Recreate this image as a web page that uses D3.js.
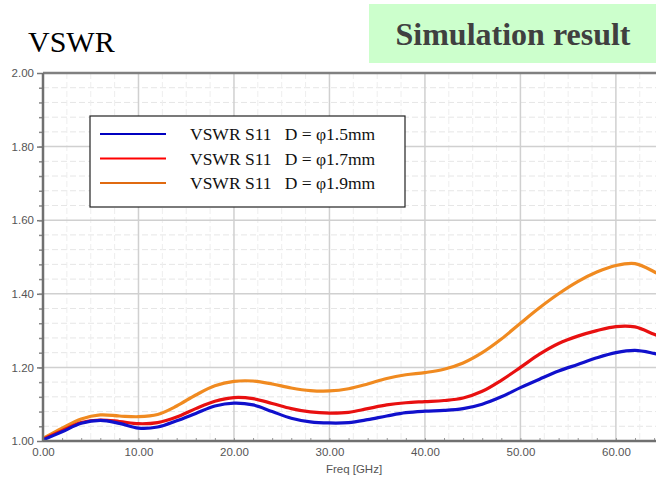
<!DOCTYPE html>
<html>
<head>
<meta charset="utf-8">
<script src="https://cdn.jsdelivr.net/npm/d3@7"></script>
<style>
  body { margin: 0; background: #fff; }
  svg { display: block; }
</style>
</head>
<body>
<div id="chart"></div>
<script>
// frequencias (GHz)
var freq = [0, 2, 4, 6, 8, 10, 12, 14, 16, 18, 20, 22, 24, 26, 28, 30, 32, 34, 36, 38,
            40, 42, 44, 46, 48, 50, 52, 54, 56, 58, 60, 62, 64, 65];

// VSWR por diametro
var vswr15 = [1.003, 1.025, 1.048, 1.056, 1.048, 1.035, 1.038, 1.055, 1.075, 1.095, 1.103, 1.098, 1.080, 1.062, 1.052, 1.049, 1.050, 1.058, 1.068, 1.077,
              1.081, 1.083, 1.088, 1.100, 1.120, 1.145, 1.168, 1.190, 1.208, 1.226, 1.240, 1.246, 1.238, 1.232];
var vswr17 = [1.005, 1.028, 1.050, 1.057, 1.053, 1.047, 1.050, 1.065, 1.088, 1.108, 1.118, 1.115, 1.102, 1.088, 1.079, 1.076, 1.078, 1.088, 1.098, 1.104,
              1.107, 1.110, 1.117, 1.135, 1.165, 1.200, 1.236, 1.265, 1.285, 1.300, 1.311, 1.310, 1.290, 1.280];
var vswr19 = [1.007, 1.035, 1.060, 1.071, 1.068, 1.066, 1.072, 1.095, 1.125, 1.150, 1.162, 1.163, 1.155, 1.144, 1.137, 1.136, 1.142, 1.155, 1.170, 1.180,
              1.186, 1.195, 1.212, 1.240, 1.277, 1.320, 1.362, 1.400, 1.433, 1.459, 1.477, 1.482, 1.460, 1.445];

var legendas = ["VSWR S11   D = \u03c61.5mm", "VSWR S11   D = \u03c61.7mm", "VSWR S11   D = \u03c61.9mm"];
var cores = ["#1010cc", "#e81010", "#f08a20"];
var coresLegenda = ["#0000c0", "#ff0000", "#e06a10"];

var xTicks = [0, 10, 20, 30, 40, 50, 60];
var yTicks = [1.0, 1.2, 1.4, 1.6, 1.8, 2.0];

var largura = 656, altura = 480;
var esq = 43, topo = 73, base = 441;

var svg = d3.select("#chart").append("svg")
    .attr("width", largura)
    .attr("height", altura);

// titulo
svg.append("text")
    .attr("x", 28).attr("y", 52)
    .style("font-family", "Liberation Serif, Times New Roman, serif")
    .style("font-size", "30px")
    .attr("fill", "#000")
    .text("VSWR");

// caixa verde
svg.append("rect")
    .attr("x", 369).attr("y", 4)
    .attr("width", 287).attr("height", 59)
    .attr("fill", "#ccffcc");
svg.append("text")
    .attr("x", 513).attr("y", 45)
    .attr("text-anchor", "middle")
    .style("font-family", "Liberation Serif, Times New Roman, serif")
    .style("font-size", "32px")
    .style("font-weight", "bold")
    .attr("fill", "#404040")
    .text("Simulation result");

var x = d3.scaleLinear().domain([0, 64.2]).range([esq, largura]);
var y = d3.scaleLinear().domain([1, 2]).range([base, topo]);

svg.append("defs").append("clipPath").attr("id", "clip")
    .append("rect")
    .attr("x", esq).attr("y", topo)
    .attr("width", largura - esq).attr("height", base - topo);

// grade secundaria
var grid = svg.append("g");
grid.selectAll(".gy2")
    .data(d3.range(1.04, 2.0, 0.04).filter(function(d) { return Math.abs(d * 5 - Math.round(d * 5)) > 0.01; }))
    .enter().append("line")
    .attr("x1", esq).attr("x2", largura)
    .attr("y1", function(d) { return y(d); })
    .attr("y2", function(d) { return y(d); })
    .attr("stroke", "#e6e6e6")
    .attr("stroke-dasharray", "6,3");
grid.selectAll(".gx2")
    .data(d3.range(2.5, 64.2, 2.5).filter(function(d) { return d % 10 !== 0; }))
    .enter().append("line")
    .attr("x1", function(d) { return x(d); })
    .attr("x2", function(d) { return x(d); })
    .attr("y1", topo).attr("y2", base)
    .attr("stroke", "#eeeeee")
    .attr("stroke-dasharray", "6,3");

// grade principal
grid.selectAll(".gy")
    .data(yTicks.slice(1, 5))
    .enter().append("line")
    .attr("x1", esq).attr("x2", largura)
    .attr("y1", function(d) { return y(d); })
    .attr("y2", function(d) { return y(d); })
    .attr("stroke", "#d0d0d0")
    .attr("stroke-width", 1.5);
grid.selectAll(".gx")
    .data(xTicks.slice(1))
    .enter().append("line")
    .attr("x1", function(d) { return x(d); })
    .attr("x2", function(d) { return x(d); })
    .attr("y1", topo).attr("y2", base)
    .attr("stroke", "#d0d0d0")
    .attr("stroke-width", 1.5);

// curvas
var linha = d3.line()
    .x(function(d) { return x(d[0]); })
    .y(function(d) { return y(d[1]); })
    .curve(d3.curveCatmullRom);

var series = [vswr19, vswr17, vswr15];
var coresSeries = [cores[2], cores[1], cores[0]];
var plot = svg.append("g").attr("clip-path", "url(#clip)");
series.forEach(function(s, i) {
    plot.append("path")
        .datum(d3.zip(freq, s))
        .attr("fill", "none")
        .attr("stroke", coresSeries[i])
        .attr("stroke-width", 3.2)
        .attr("stroke-linejoin", "round")
        .attr("d", linha);
});

// eixos
var yAxis = d3.axisLeft(y)
    .tickValues(yTicks)
    .tickFormat(d3.format(".2f"))
    .tickSize(6)
    .tickPadding(3);
var gy = svg.append("g")
    .attr("transform", "translate(" + esq + ",0)")
    .call(yAxis);
gy.select(".domain").remove();
gy.selectAll("text")
    .style("font-family", "Liberation Sans, Arial, sans-serif")
    .style("font-size", "11.5px")
    .attr("fill", "#555");
gy.selectAll("line").attr("stroke", "#777").attr("stroke-width", 1.5);

var yMinor = d3.axisLeft(y)
    .tickValues(d3.range(1.04, 2.0, 0.04))
    .tickFormat("")
    .tickSize(4);
var gym = svg.append("g")
    .attr("transform", "translate(" + esq + ",0)")
    .call(yMinor);
gym.select(".domain").remove();
gym.selectAll("line").attr("stroke", "#888").attr("stroke-width", 1.5);

var xAxis = d3.axisBottom(x)
    .tickValues(xTicks)
    .tickFormat(d3.format(".2f"))
    .tickSize(0)
    .tickPadding(7);
var gx = svg.append("g")
    .attr("transform", "translate(0," + base + ")")
    .call(xAxis);
gx.select(".domain").remove();
gx.selectAll("text")
    .style("font-family", "Liberation Sans, Arial, sans-serif")
    .style("font-size", "11.5px")
    .attr("fill", "#555");

var xMinor = d3.axisTop(x)
    .tickValues(d3.range(2, 64.2, 2))
    .tickFormat("")
    .tickSize(3);
var gxm = svg.append("g")
    .attr("transform", "translate(0," + base + ")")
    .call(xMinor);
gxm.select(".domain").remove();
gxm.selectAll("line").attr("stroke", "#999");

// linhas do quadro
svg.append("line")
    .attr("x1", esq).attr("x2", largura)
    .attr("y1", base).attr("y2", base)
    .attr("stroke", "#707070").attr("stroke-width", 2.5);
svg.append("line")
    .attr("x1", esq).attr("x2", largura)
    .attr("y1", topo).attr("y2", topo)
    .attr("stroke", "#808080").attr("stroke-width", 2.5);
svg.append("line")
    .attr("x1", esq).attr("x2", esq)
    .attr("y1", topo).attr("y2", base)
    .attr("stroke", "#707070").attr("stroke-width", 2.5);

svg.append("text")
    .attr("x", 354).attr("y", 473)
    .attr("text-anchor", "middle")
    .style("font-family", "Liberation Sans, Arial, sans-serif")
    .style("font-size", "11.5px")
    .attr("fill", "#555")
    .text("Freq [GHz]");

// legenda
var leg = svg.append("g");
leg.append("rect")
    .attr("x", 90).attr("y", 116)
    .attr("width", 315).attr("height", 91)
    .attr("fill", "#fff")
    .attr("stroke", "#222")
    .attr("stroke-width", 1.2);
legendas.forEach(function(t, i) {
    var ly = 134 + i * 24.5;
    leg.append("line")
        .attr("x1", 100).attr("x2", 166)
        .attr("y1", ly).attr("y2", ly)
        .attr("stroke", coresLegenda[i])
        .attr("stroke-width", 2);
    leg.append("text")
        .attr("x", 190).attr("y", ly + 6)
        .style("font-family", "Liberation Serif, Times New Roman, serif")
        .style("font-size", "17.5px")
        .attr("fill", "#111")
        .attr("xml:space", "preserve")
        .style("white-space", "pre")
        .text(t);
});
</script>
</body>
</html>
